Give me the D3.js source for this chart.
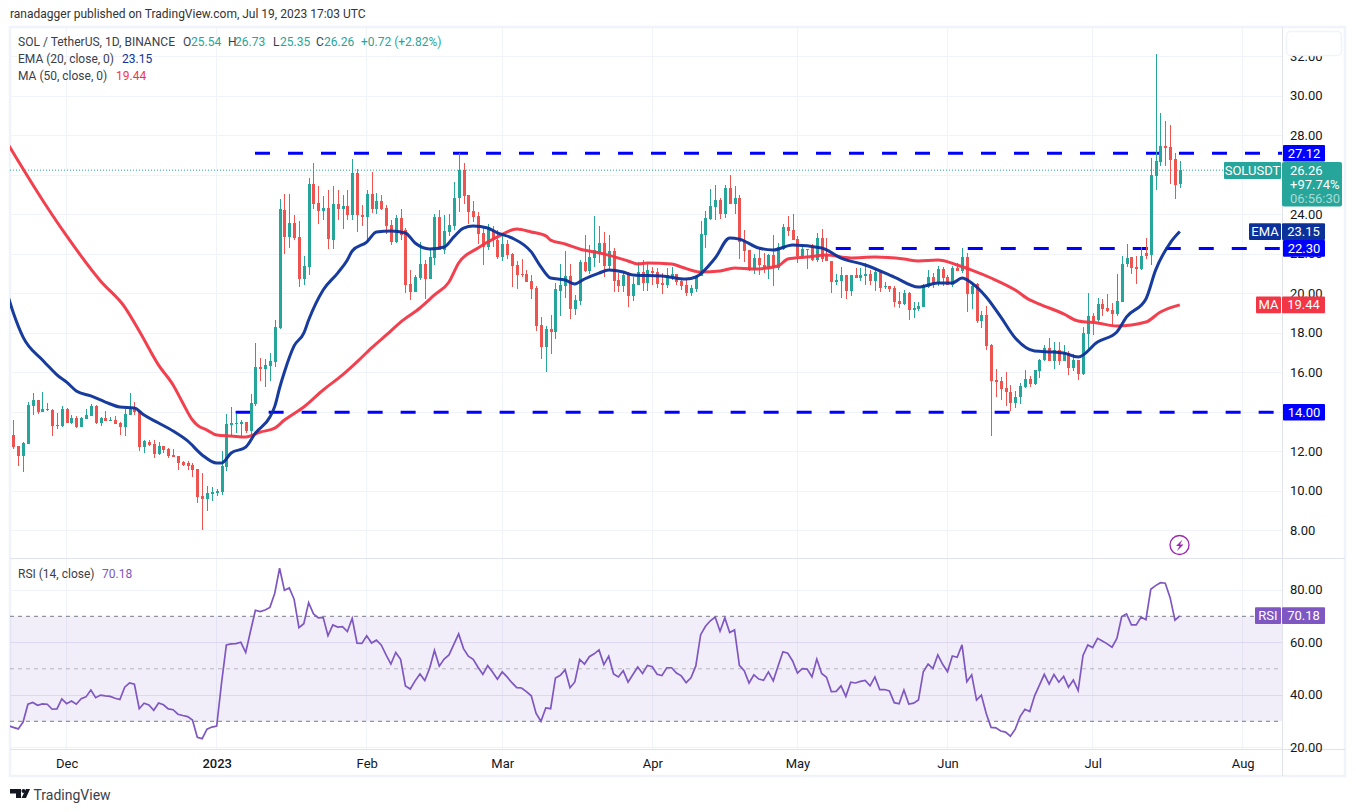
<!DOCTYPE html>
<html>
<head>
<meta charset="utf-8">
<script src="https://d3js.org/d3.v7.min.js"></script>
<style>
body { margin: 0; background: #fff; }
text { font-family: Roboto, "Noto Sans", sans-serif; }
</style>
</head>
<body>
<svg id="chart" width="1356" height="812"></svg>
<script>
// day 0 = 20 Nov 2022, day 241 = 19 Jul 2023
var opens = [
12.85,12.30,11.79,12.40,14.32,14.62,14.02,14.15,14.12,13.32,
13.31,14.17,13.48,13.71,13.27,13.66,13.83,14.34,13.48,13.71,
13.58,13.61,13.46,13.27,13.86,14.20,14.07,12.24,12.50,12.40,
11.89,12.30,12.14,11.84,11.79,11.47,11.43,11.33,11.13,9.76,
9.61,9.87,9.92,9.97,11.23,13.36,13.41,13.41,13.51,13.05,
14.42,16.29,16.19,16.34,16.54,18.27,24.24,22.88,23.59,22.88,
20.75,21.36,25.56,24.60,24.19,24.35,22.73,24.55,24.30,24.45,
23.99,26.12,23.99,23.89,25.05,24.30,24.70,24.35,23.48,22.62,
23.84,23.23,20.50,20.09,20.80,21.51,20.75,21.81,23.89,22.22,
23.13,23.43,24.85,26.27,25.00,24.19,23.94,23.08,22.37,23.23,
22.73,21.86,22.52,22.02,21.46,21.00,21.00,20.65,20.30,18.42,
17.31,18.22,18.07,20.14,20.40,20.90,19.23,19.64,21.61,21.16,
21.81,22.07,22.57,21.41,22.17,20.70,20.40,20.95,19.89,20.45,
21.11,20.55,21.16,21.11,20.55,20.45,20.85,21.00,20.65,20.45,
20.05,20.25,20.90,22.98,23.79,24.40,24.75,24.04,25.36,24.55,
24.85,22.62,22.22,21.21,21.81,21.46,21.26,21.97,21.31,22.27,
23.38,23.23,22.78,21.92,22.27,22.37,21.71,22.83,21.92,21.66,
20.60,20.65,20.95,20.14,20.95,20.80,20.90,21.00,20.65,21.11,
20.35,20.40,20.30,19.64,19.49,20.04,19.18,19.23,19.33,20.35,
20.85,20.55,21.26,20.85,20.45,21.31,21.16,21.86,19.99,20.50,
18.62,18.93,17.41,15.64,15.59,15.23,15.03,14.47,14.78,15.28,
15.69,15.43,16.09,16.65,17.26,16.59,17.15,16.59,17.00,16.24,
16.65,15.94,17.96,18.87,18.67,19.48,19.28,19.18,18.97,19.58,
21.50,21.86,21.35,21.25,22.06,21.96,25.97,26.68,27.49,27.43,
26.83,25.54];
var highs = [
13.61,12.30,12.50,14.51,14.98,14.62,15.03,14.47,14.15,13.97,
14.30,14.20,13.86,13.80,13.75,14.17,14.42,14.37,13.78,14.07,
13.76,13.80,13.51,14.15,14.98,14.52,14.12,12.60,12.58,12.60,
12.50,12.30,12.19,12.14,11.79,11.54,11.54,11.42,11.13,10.93,
10.27,10.22,10.12,12.04,13.92,14.27,13.92,13.61,13.51,14.93,
17.52,16.75,16.70,17.00,18.67,24.80,25.05,25.05,23.99,23.69,
21.92,25.86,26.62,25.46,24.95,25.26,25.46,25.26,25.00,25.26,
26.83,26.32,24.50,25.26,26.17,25.10,25.00,24.50,23.74,23.99,
24.30,23.33,21.21,20.95,22.62,21.71,22.32,24.04,24.24,23.99,
24.04,25.66,27.13,26.62,25.00,24.70,24.14,23.33,23.54,23.43,
23.23,22.98,22.72,22.05,21.66,21.76,21.20,20.95,20.40,18.83,
18.37,18.93,20.55,21.51,22.17,21.51,19.94,21.71,22.98,22.47,
23.94,23.43,23.13,22.98,22.32,21.05,21.11,21.11,20.85,21.61,
21.71,21.51,21.36,21.31,21.05,21.31,21.36,21.00,20.80,20.75,
20.45,20.95,23.69,24.20,25.31,25.51,24.85,25.51,26.02,25.46,
25.00,23.23,22.22,22.02,22.27,22.05,22.02,22.98,22.57,23.54,
23.94,24.04,22.93,22.47,22.29,22.52,23.08,23.28,22.83,21.66,
21.00,21.36,20.95,20.95,21.31,21.31,21.56,21.21,21.31,21.11,
20.60,20.40,20.40,20.10,20.19,20.09,19.59,19.59,20.50,21.21,
21.05,21.41,21.36,20.95,21.41,21.56,22.32,22.07,20.60,20.55,
19.13,19.38,17.46,16.19,15.79,16.04,15.38,15.08,15.49,16.14,
15.84,16.14,16.70,17.41,17.76,17.56,17.56,17.40,17.10,16.95,
16.65,18.32,20.04,19.03,19.78,19.73,19.99,19.53,21.00,21.91,
22.52,21.86,21.90,22.37,22.82,26.86,32.14,29.16,28.75,28.55,
27.13,26.73];
var lows = [
12.14,11.28,11.00,12.40,13.88,13.92,14.02,14.08,12.82,13.17,
13.27,13.44,13.41,13.22,13.25,13.64,13.82,13.43,13.32,13.54,
13.56,13.41,12.85,12.82,13.86,13.86,12.04,11.94,12.31,11.69,
11.84,11.94,11.69,11.74,11.08,11.28,11.08,10.73,9.41,8.04,
9.00,9.51,9.76,9.81,11.03,12.80,12.95,12.70,12.95,12.85,
14.32,15.58,15.28,15.58,16.29,18.22,22.02,22.32,22.73,20.35,
20.45,20.95,24.30,23.54,23.74,22.27,22.27,23.74,23.28,23.74,
23.74,23.13,23.43,22.57,24.09,24.04,24.24,23.03,22.47,22.57,
22.73,20.04,19.69,20.09,20.70,19.74,20.75,21.46,22.22,22.02,
22.93,23.23,24.14,24.55,23.54,23.64,22.52,21.46,22.22,22.37,
21.76,21.66,21.76,20.35,20.25,20.85,20.60,19.74,18.12,16.70,
16.04,16.95,17.71,18.88,19.79,18.73,18.93,19.43,21.11,21.00,
21.36,21.56,20.85,21.21,20.09,20.09,20.09,19.33,19.64,20.45,
20.14,20.14,20.45,20.30,19.99,20.30,20.70,20.45,20.20,19.89,
19.89,20.09,20.90,22.32,23.74,23.74,23.79,23.84,24.55,24.04,
21.76,21.61,21.16,21.00,20.95,21.04,20.75,20.40,21.21,22.22,
22.93,22.73,21.56,21.76,21.26,21.66,21.61,21.61,21.66,20.04,
20.45,19.79,19.74,19.87,20.80,20.65,20.45,20.45,20.14,20.09,
20.25,20.09,19.33,19.28,19.43,18.67,18.78,19.13,19.33,20.30,
20.30,20.40,20.40,20.45,20.35,21.16,21.05,19.08,19.23,18.52,
18.27,17.16,12.80,14.78,14.60,14.32,14.07,14.22,14.42,15.23,
15.28,15.38,15.74,16.60,16.60,16.19,16.39,16.59,15.89,16.09,
15.63,15.89,17.20,17.91,18.57,18.87,19.08,18.42,18.87,19.58,
21.35,21.00,20.50,21.20,21.76,21.45,25.26,26.47,26.47,25.56,
24.80,25.35];
var closes = [
12.23,11.79,12.45,14.37,14.62,14.00,14.15,14.10,13.32,13.36,
14.15,13.46,13.71,13.26,13.71,13.87,14.32,13.46,13.71,13.56,
13.61,13.43,13.27,13.92,14.15,14.03,12.24,12.57,12.35,11.89,
12.30,12.09,11.79,11.74,11.43,11.33,11.28,11.08,9.71,9.61,
9.92,9.97,10.02,11.28,13.41,13.46,13.46,13.51,13.05,14.47,
16.29,16.19,16.39,16.60,18.32,24.30,22.88,23.59,22.83,20.75,
21.41,25.56,24.55,24.19,24.35,22.78,24.55,24.30,24.45,23.99,
26.12,23.99,23.89,25.05,24.30,24.70,24.30,23.43,22.62,23.84,
22.98,20.45,20.09,20.85,21.51,20.75,21.86,23.89,22.22,23.18,
23.49,24.85,26.27,24.95,24.14,23.89,23.03,22.37,23.28,22.73,
21.86,22.52,21.97,21.41,20.95,20.95,20.60,20.25,18.37,17.31,
18.22,18.07,20.25,20.45,20.90,19.23,19.69,21.61,21.16,21.86,
22.22,22.57,21.41,22.17,20.65,20.40,20.95,19.89,20.50,21.11,
20.55,21.20,21.05,20.50,20.45,20.95,21.00,20.60,20.40,20.05,
20.30,20.90,23.03,23.84,24.45,24.75,24.04,25.36,24.55,24.85,
22.62,22.17,21.21,21.81,21.46,21.26,21.97,21.36,22.37,23.38,
23.18,22.73,21.92,22.27,22.22,21.71,22.83,21.76,21.66,20.60,
20.70,20.95,20.14,20.95,20.80,20.95,21.00,20.65,21.11,20.30,
20.40,20.25,19.59,19.49,20.04,19.18,19.28,19.38,20.45,20.85,
20.55,21.26,20.80,20.45,21.31,21.16,21.86,19.99,20.40,18.62,
18.93,17.36,15.59,15.54,15.18,15.03,14.47,14.78,15.33,15.69,
15.43,16.14,16.65,17.26,16.60,17.15,16.59,17.00,16.24,16.65,
15.94,18.01,18.87,18.62,19.48,19.23,19.13,18.97,19.63,21.50,
21.81,21.30,21.25,21.91,21.91,26.00,26.73,27.49,27.38,26.78,
25.51,26.26];

// moving averages at these days
var emaDays = [-1,0,2,6,8,9,11,13,16,19,22,25,27,30,33,36,39,42,43,45,48,50,53,54,55,56,58,60,61,64,67,69,70,73,75,78,81,83,86,89,91,93,95,98,100,103,107,109,111,114,116,118,121,123,126,128,134,139,141,145,148,150,154,157,161,167,171,176,182,187,191,194,196,198,201,204,207,211,215,217,220,224,228,230,234,236,239,241];
var emaValues = [19.79,19.03,17.81,16.65,16.14,15.89,15.53,15.08,14.83,14.52,14.27,14.22,13.86,13.46,13.05,12.55,11.84,11.43,11.43,11.94,12.24,12.95,13.76,14.3,15.23,16.04,17.36,18.01,18.67,20.19,21.05,21.71,22.17,22.62,23.13,23.18,23.08,22.57,22.27,22.37,22.88,23.33,23.43,23.33,23.08,22.83,22.12,21.36,20.8,20.7,20.5,20.75,21.05,21.2,21.1,20.95,20.9,20.75,20.85,21.81,22.83,22.77,22.32,22.22,22.47,22.32,21.81,21.46,20.85,20.34,20.55,20.55,20.8,20.55,19.84,18.83,17.76,17.1,17.05,17.0,16.8,17.56,18.07,18.83,19.74,21.2,22.57,23.15];
var maDays = [-1,6,11,18,23,26,30,33,35,37,38,40,42,45,48,51,54,56,60,64,68,71,74,78,80,84,87,90,92,96,100,104,107,110,111,114,117,122,127,129,131,136,138,142,146,149,153,158,160,164,168,173,178,184,187,191,195,198,202,207,210,212,217,220,224,228,234,237,241];
var maValues = [27.53,24.75,22.93,20.65,19.33,18.12,16.39,15.38,14.47,13.61,13.35,13.1,12.85,12.8,12.75,13.0,13.2,13.61,14.27,15.13,15.89,16.55,17.26,18.12,18.57,19.28,19.94,20.6,21.56,22.32,22.88,23.28,23.13,22.93,22.72,22.52,22.27,22.02,21.66,21.51,21.56,21.51,21.36,21.1,21.15,21.31,21.26,21.41,21.76,21.86,21.96,21.81,21.86,21.76,21.66,21.71,21.46,21.2,20.8,20.19,19.69,19.48,18.98,18.62,18.52,18.37,18.57,19.08,19.44];

// rsi starts one day before the first candle
var rsiValues = [
28.3,27.7,27.1,29.7,36.5,37.2,36.1,36.6,36.5,34.6,34.7,38.5,36.7,37.7,36.5,38.6,39.3,41.9,39.0,40.0,
39.7,39.5,38.8,38.3,43.0,44.6,44.1,34.8,36.9,36.2,34.2,37.0,36.3,34.7,34.4,32.7,32.2,31.8,30.5,23.9,
23.4,27.0,27.8,28.2,44.5,59.1,59.5,59.6,60.1,56.2,64.4,72.3,71.8,72.4,73.4,78.8,88.3,79.9,80.8,76.5,
65.7,67.2,75.2,70.9,69.4,69.6,62.6,66.7,65.9,66.1,64.2,69.2,59.8,59.7,62.6,59.8,60.9,59.1,55.3,51.8,
56.2,53.6,43.5,42.3,45.4,48.0,45.5,50.2,57.0,51.0,53.7,55.3,59.3,63.3,57.7,54.8,53.6,50.6,47.9,51.2,
48.8,46.0,48.8,46.9,44.7,42.8,42.7,41.3,39.7,33.0,30.0,35.1,34.8,46.5,47.5,49.6,42.8,45.0,53.6,51.8,
54.6,55.7,57.2,51.6,54.8,48.0,46.9,49.3,44.9,47.8,50.7,48.2,51.3,50.8,47.9,47.4,50.4,50.4,48.4,47.3,
44.7,46.6,51.1,63.0,66.2,68.3,69.7,64.3,69.4,63.8,64.8,51.3,49.3,44.6,47.7,46.1,45.6,48.8,45.4,51.1,
56.5,55.9,53.0,48.4,50.1,49.9,46.9,53.7,48.2,46.8,41.3,41.4,43.5,39.5,44.9,44.6,45.2,45.6,43.5,46.9,
42.1,42.1,41.6,37.1,36.7,41.9,36.6,36.9,38.1,48.9,51.8,50.1,55.3,51.7,48.9,54.9,54.4,59.1,45.1,47.7,
38.1,40.0,33.0,27.7,27.5,26.3,25.9,24.3,27.0,31.8,34.6,33.7,39.7,43.8,47.9,44.2,47.8,44.9,47.1,43.0,
45.7,41.7,55.1,59.1,58.1,61.6,60.6,59.5,58.2,61.6,69.9,70.9,66.7,66.7,69.7,68.7,80.3,81.7,82.8,82.6,
77.1,68.5,70.18];

var levelValues = [27.12, 22.30, 14.00];
var levelStarts = [50, 170, 46];
var priceTicks = [32,30,28,26,24,22,20,18,16,14,12,10,8];
var priceLabelTicks = [32,30,28,24,22,20,18,16,12,10,8];
var rsiTicks = [80,60,40,20];
var rsiLevels = [70,50,30];
var monthDays = [11,42,73,101,132,162,193,223,254];
var monthLabels = ["Dec","2023","Feb","Mar","Apr","May","Jun","Jul","Aug"];

var teal = "#26a69a", red = "#ef5350", maRed = "#f23645", navy = "#0c3299",
    blue = "#0000ff", purple = "#7e57c2", ink = "#131722", grid = "#f0f3fa", border = "#e0e3eb";

var L = 10, R = 1282, mainT = 27, mainB = 557.5, rsiT = 558.5, rsiB = 749.5;

var x = d3.scaleLinear().domain([0,241]).range([13.4,1179.8]);
var y = d3.scaleLinear().domain([26,14]).range([175.3,412.3]);
var yr = d3.scaleLinear().domain([70,30]).range([616.3,721.3]);

var svg = d3.select("#chart");

svg.append("defs").append("clipPath").attr("id","mainClip").append("rect")
  .attr("x",L).attr("y",mainT).attr("width",R-L).attr("height",mainB-mainT);
d3.select("defs").append("clipPath").attr("id","rsiClip").append("rect")
  .attr("x",L).attr("y",rsiT).attr("width",R-L).attr("height",rsiB-rsiT);

svg.append("text").attr("x",10).attr("y",18).attr("font-size",12).attr("fill","#333")
  .text("ranadagger published on TradingView.com, Jul 19, 2023 17:03 UTC");

// outer frame
svg.append("rect").attr("x",10).attr("y",27).attr("width",1335).attr("height",749)
  .attr("fill","#fff").attr("stroke",grid).attr("stroke-width",2.5);

// grid
var g = svg.append("g").attr("stroke",grid).attr("shape-rendering","crispEdges");
g.selectAll("line.v1").data(monthDays).enter().append("line")
  .attr("x1",d=>x(d)).attr("x2",d=>x(d)).attr("y1",mainT).attr("y2",mainB);
g.selectAll("line.v2").data(monthDays).enter().append("line")
  .attr("x1",d=>x(d)).attr("x2",d=>x(d)).attr("y1",rsiT).attr("y2",rsiB);
g.selectAll("line.h1").data(priceTicks).enter().append("line")
  .attr("x1",L).attr("x2",R).attr("y1",d=>y(d)).attr("y2",d=>y(d));

// rsi band
svg.append("rect").attr("x",L).attr("width",R-L).attr("y",yr(70)).attr("height",yr(30)-yr(70))
  .attr("fill",purple).attr("fill-opacity",0.1);
g.selectAll("line.h2").data(rsiTicks).enter().append("line")
  .attr("x1",L).attr("x2",R).attr("y1",d=>yr(d)).attr("y2",d=>yr(d)).attr("stroke",d=>d==20||d==80?grid:"#e9e7f3");
svg.selectAll("line.rl").data(rsiLevels).enter().append("line")
  .attr("x1",L).attr("x2",R).attr("y1",d=>yr(d)).attr("y2",d=>yr(d))
  .attr("stroke","#787b86").attr("stroke-opacity",d=>d==50?0.5:1).attr("stroke-dasharray","4,4");

// pane separators
[[L,R,mainB+.5,mainB+.5],[L,R,rsiB,rsiB],[R,R,mainT,776]].forEach(function(s){
  svg.append("line").attr("x1",s[0]).attr("x2",s[1]).attr("y1",s[2]).attr("y2",s[3])
    .attr("stroke",border).attr("shape-rendering","crispEdges");
});
svg.append("line").attr("x1",R).attr("x2",1345).attr("y1",rsiB).attr("y2",rsiB).attr("stroke",border).attr("shape-rendering","crispEdges");
svg.append("line").attr("x1",R).attr("x2",1345).attr("y1",mainB+.5).attr("y2",mainB+.5).attr("stroke",border).attr("shape-rendering","crispEdges");

var main = svg.append("g").attr("clip-path","url(#mainClip)");

// last price line
main.append("line").attr("x1",L).attr("x2",1224).attr("y1",y(closes[241])).attr("y2",y(closes[241]))
  .attr("stroke",teal).attr("stroke-dasharray","1,2");

// horizontal levels
main.selectAll("line.level").data(levelValues).enter().append("line")
  .attr("x1",(d,i)=>x(levelStarts[i])-0.4).attr("x2",R).attr("y1",d=>y(d)).attr("y2",d=>y(d))
  .attr("stroke",blue).attr("stroke-width",3).attr("stroke-dasharray","15,18");

// candles
var days = d3.range(closes.length);
var cg = main.append("g").attr("shape-rendering","crispEdges");
cg.selectAll("line.wick").data(days).enter().append("line")
  .attr("x1",d=>Math.round(x(d))+.5).attr("x2",d=>Math.round(x(d))+.5)
  .attr("y1",d=>y(highs[d])).attr("y2",d=>y(lows[d]))
  .attr("stroke",d=>closes[d]>=opens[d]?teal:red);
cg.selectAll("rect.body").data(days).enter().append("rect")
  .attr("x",d=>Math.round(x(d))-1).attr("width",3)
  .attr("y",d=>y(Math.max(opens[d],closes[d])))
  .attr("height",d=>Math.max(1,Math.abs(y(opens[d])-y(closes[d]))))
  .attr("fill",d=>closes[d]>=opens[d]?teal:red);

// moving averages
var lineOf = function(days, vals){
  return d3.line().x((d,i)=>x(days[i])).y((d,i)=>y(vals[i])).curve(d3.curveMonotoneX)(vals);
};
main.append("path").attr("d",lineOf(maDays,maValues)).attr("fill","none").attr("stroke",maRed).attr("stroke-width",3).attr("stroke-opacity",.95);
main.append("path").attr("d",lineOf(emaDays,emaValues)).attr("fill","none").attr("stroke",navy).attr("stroke-width",3).attr("stroke-opacity",.95);

// rsi
svg.append("g").attr("clip-path","url(#rsiClip)").append("path")
  .attr("d",d3.line().x((d,i)=>x(i-1)).y(d=>yr(d))(rsiValues))
  .attr("fill","none").attr("stroke",purple).attr("stroke-width",1.7);

// axes
var styleAxis = function(sel, size, col){
  sel.select(".domain").remove();
  sel.selectAll(".tick line").remove();
  sel.selectAll(".tick text").attr("font-size",size).attr("fill",col)
    .style("font-family",'Roboto,"Noto Sans",sans-serif');
};
svg.append("g").attr("transform","translate("+(R+8)+",-0.5)")
  .call(d3.axisRight(y).tickValues(priceLabelTicks).tickSize(0).tickPadding(0).tickFormat(d3.format(".2f")))
  .call(styleAxis,13,ink);
svg.append("g").attr("transform","translate("+(R+8)+",-0.5)")
  .call(d3.axisRight(yr).tickValues(rsiTicks).tickSize(0).tickPadding(0).tickFormat(d3.format(".2f")))
  .call(styleAxis,13,ink);
svg.append("g").attr("transform","translate(0,"+(rsiB+5.5)+")")
  .call(d3.axisBottom(x).tickValues(monthDays).tickSize(0).tickPadding(4).tickFormat((d,i)=>monthLabels[i]))
  .call(styleAxis,13,ink)
  .selectAll(".tick text").attr("font-weight",(d,i)=>i==1?"500":"400");

// the box over the top of the price axis
svg.append("rect").attr("x",1286.5).attr("y",31.5).attr("width",55).attr("height",24).attr("rx",4)
  .attr("fill","#fff").attr("stroke",grid).attr("stroke-width",1.5);

// price tags
function tag(x0,w,cy,h,fill,txt,rounded){
  svg.append("rect").attr("x",x0).attr("y",cy-h/2).attr("width",w).attr("height",h).attr("rx",rounded?2:1).attr("fill",fill);
  svg.append("text").attr("x",x0+w/2).attr("y",cy+4.5).attr("text-anchor","middle")
    .attr("font-size",13).attr("fill","#fff").text(txt);
}
levelValues.forEach(function(v){ tag(R+1,42,y(v),16.6,blue,d3.format(".2f")(v)); });

svg.append("rect").attr("x",1224).attr("y",162).attr("width",57).attr("height",17).attr("rx",1).attr("fill",teal);
svg.append("text").attr("x",1252.5).attr("y",175).attr("text-anchor","middle").attr("font-size",13).attr("fill","#fff").text("SOLUSDT");
svg.append("rect").attr("x",R).attr("y",162).attr("width",60).attr("height",44.5).attr("rx",2).attr("fill",teal);
svg.append("text").attr("x",R+8).attr("y",175).attr("font-size",13).attr("fill","#fff").text(d3.format(".2f")(closes[241]));
svg.append("text").attr("x",R+8).attr("y",189).attr("font-size",13).attr("fill","#fff").text("+97.74%");
svg.append("text").attr("x",R+8).attr("y",203).attr("font-size",13).attr("fill","#a8dbd6").text("06:56:30");

var emaLast = emaValues[emaValues.length-1], maLast = maValues[maValues.length-1], rsiLast = rsiValues[rsiValues.length-1];
tag(1249,32,y(emaLast),16.6,navy,"EMA");
tag(R,43,y(emaLast),16.6,navy,d3.format(".2f")(emaLast));
tag(1256,25,y(maLast),16.6,maRed,"MA");
tag(R,43,y(maLast),16.6,maRed,d3.format(".2f")(maLast));
tag(1255,26,yr(rsiLast)-.2,16.6,purple,"RSI");
tag(R,43,yr(rsiLast)-.2,16.6,purple,d3.format(".2f")(rsiLast));

// legends
function leg(xp,yp,txt,col){
  return svg.append("text").attr("x",xp).attr("y",yp).attr("font-size",12).attr("fill",col||"#3a3e4a").text(txt);
}
leg(18,46,"SOL / TetherUS, 1D, BINANCE").attr("textLength",157).attr("lengthAdjust","spacingAndGlyphs");
leg(183,46,"O"); leg(191,46,"25.54",teal);
leg(228,46,"H"); leg(235,46,"26.73",teal);
leg(273,46,"L"); leg(280,46,"25.35",teal);
leg(316,46,"C"); leg(324,46,"26.26",teal);
leg(361,46,"+0.72 (+2.82%)",teal);
leg(18,63,"EMA (20, close, 0)"); leg(122,63,"23.15",navy);
leg(18,80,"MA (50, close, 0)"); leg(116,80,"19.44",maRed);
leg(18,578,"RSI (14, close)"); leg(102,578,"70.18",purple);

// bolt marker
svg.append("circle").attr("cx",1179.5).attr("cy",545).attr("r",9.5).attr("fill","#fff").attr("stroke","#9c27b0").attr("stroke-width",1.3);
svg.append("path").attr("d","M1182.5 539.5 L1176 546 L1179.5 546 L1177 551 L1183.5 544.5 L1180 544.5 Z").attr("fill","#9c27b0");

// logo
svg.append("path").attr("d","M10 789 H21 V798 H16 V793.5 H10 Z").attr("fill",ink);
svg.append("circle").attr("cx",23.5).attr("cy",791).attr("r",2).attr("fill",ink);
svg.append("path").attr("d","M26 789 H30 L26 798 H21.5 Z").attr("fill",ink);
svg.append("text").attr("x",33.5).attr("y",800).attr("font-size",14).attr("fill","#3a3e4a").text("TradingView");
</script>
</body>
</html>
